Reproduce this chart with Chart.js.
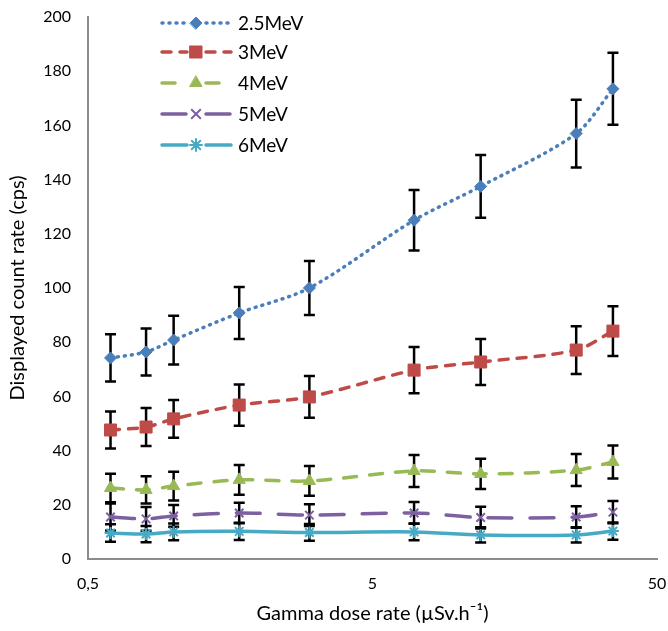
<!DOCTYPE html>
<html>
<head>
<meta charset="utf-8">
<script src="https://cdn.jsdelivr.net/npm/chart.js@4.4.1/dist/chart.umd.min.js"></script>
<style>
  html, body { margin: 0; padding: 0; background: #fff; }
  canvas { display: block; }
</style>
</head>
<body>
<canvas id="doseChart" width="668" height="631"></canvas>
<script>
// gamma dose rate (uSv/h) for each measurement
const doseRates = [0.6, 0.8, 1, 1.7, 3, 7, 12, 26, 35];
const xTicks = [0.5, 5, 50];

const seriesNames = ["2.5MeV", "3MeV", "4MeV", "5MeV", "6MeV"];
const rate25 = [74.2, 76.4, 80.8, 90.8, 100, 125, 137.5, 157, 173.5];
const rate3 = [47.6, 48.7, 51.7, 56.8, 59.8, 69.7, 72.7, 77.1, 84.1];
const rate4 = [26.2, 25.5, 26.9, 29.2, 28.8, 32.5, 31.4, 32.8, 35.8];
const rate5 = [15.5, 14.8, 15.9, 17, 16.2, 17, 15.3, 15.5, 17.3];
const rate6 = [9.6, 9.2, 10, 10.2, 9.8, 10, 8.9, 8.9, 10.3];

// +/- error on each point
const err25 = [8.7, 8.7, 9, 9.6, 10, 11.2, 11.6, 12.5, 13.3];
const err3 = [6.8, 7, 7, 7.6, 7.7, 8.5, 8.5, 8.8, 9.2];
const err4 = [5.3, 5, 5.3, 5.5, 5.5, 5.9, 5.6, 5.9, 6.1];
const err5 = [5, 4.4, 4, 3.8, 4, 4, 4, 4, 4.1];
const err6 = [3.2, 3, 3.1, 3.2, 3.1, 3.1, 2.8, 2.8, 3.2];

(function () {
  const FONT = "Lato, 'Open Sans', sans-serif";
  const toPoints = (vals) => vals.map((v, i) => ({ x: doseRates[i], y: v }));

  function series(idx, vals, errs, color, dash, style, radius, pbw) {
    return {
      label: seriesNames[idx],
      data: toPoints(vals),
      errors: errs,
      borderColor: color,
      backgroundColor: color,
      borderWidth: 3.5,
      borderDash: dash,
      borderCapStyle: "round",
      tension: 0.3,
      pointStyle: style,
      pointRadius: radius,
      pointBackgroundColor: color,
      pointBorderColor: color,
      pointBorderWidth: pbw,
    };
  }

  // black error bars, drawn under the lines
  const errorBars = {
    id: "errorBars",
    beforeDatasetsDraw(chart) {
      const { ctx, scales } = chart;
      ctx.save();
      ctx.strokeStyle = "#000";
      ctx.lineWidth = 2.5;
      chart.data.datasets.forEach((ds) => {
        ds.data.forEach((p, j) => {
          const e = ds.errors[j];
          const x = scales.x.getPixelForValue(p.x);
          const yt = scales.y.getPixelForValue(p.y + e);
          const yb = scales.y.getPixelForValue(p.y - e);
          ctx.beginPath();
          ctx.moveTo(x, yt); ctx.lineTo(x, yb);
          ctx.moveTo(x - 5.5, yt); ctx.lineTo(x + 5.5, yt);
          ctx.moveTo(x - 5.5, yb); ctx.lineTo(x + 5.5, yb);
          ctx.stroke();
        });
      });
      ctx.restore();
    },
  };

  // legend sits inside the plot, top left
  const innerLegend = {
    id: "innerLegend",
    afterDatasetsDraw(chart) {
      const { ctx } = chart;
      const rowY = [23, 52, 83, 114, 145];
      ctx.save();
      chart.data.datasets.forEach((ds, i) => {
        const y = rowY[i];
        ctx.strokeStyle = ds.borderColor;
        ctx.lineWidth = ds.borderWidth;
        ctx.lineCap = "round";
        ctx.setLineDash(ds.borderDash || []);
        ctx.beginPath();
        ctx.moveTo(162, y); ctx.lineTo(187, y);
        ctx.moveTo(206, y); ctx.lineTo(231, y);
        ctx.stroke();
        ctx.setLineDash([]);
        ctx.fillStyle = ds.pointBackgroundColor;
        ctx.lineWidth = ds.pointBorderWidth;
        Chart.helpers.drawPoint(ctx, { pointStyle: ds.pointStyle, radius: ds.pointRadius, rotation: 0, borderWidth: ds.pointBorderWidth }, 196, y);
        ctx.fillStyle = "#000";
        ctx.font = "19px " + FONT;
        ctx.textBaseline = "middle";
        ctx.fillText(ds.label, 238, y + 1);
      });
      ctx.restore();
    },
  };

  // keep the plot area fixed: no extra room for tick padding
  const noPad = (s) => { s.paddingLeft = 0; s.paddingRight = 0; s.paddingTop = 0; s.paddingBottom = 0; };

  new Chart(document.getElementById("doseChart"), {
    type: "line",
    data: {
      datasets: [
        series(0, rate25, err25, "#4A7EBB", [1, 6], "rectRot", 6, 1),
        series(1, rate3, err3, "#BE4B48", [9, 9], "rect", 8.5, 1),
        series(2, rate4, err4, "#98B954", [13, 13], "triangle", 7, 1),
        series(3, rate5, err5, "#7D60A0", [24, 18], "crossRot", 6, 2),
        series(4, rate6, err6, "#46AAC5", [], "star", 6, 2),
      ],
    },
    options: {
      responsive: false,
      animation: false,
      layout: { padding: { top: 17, right: 11, left: 0, bottom: 0 } },
      plugins: {
        legend: { display: false },
        tooltip: { enabled: false },
      },
      scales: {
        x: {
          type: "logarithmic",
          min: 0.5,
          max: 50,
          afterBuildTicks: (s) => { s.ticks = xTicks.map((v) => ({ value: v })); },
          afterFit: (s) => { s.height = 72; noPad(s); },
          grid: { display: false, drawTicks: false },
          border: { color: "#8c8c8c", width: 2 },
          ticks: {
            padding: 15,
            color: "#000",
            font: { family: FONT, size: 16 },
            callback: (v) => String(v).replace(".", ","),
          },
          title: {
            display: true,
            text: "Gamma dose rate (µSv.h⁻¹)",
            color: "#000",
            font: { family: FONT, size: 20 },
            padding: { top: 0, bottom: 5 },
          },
        },
        y: {
          min: 0,
          max: 200,
          afterFit: (s) => { s.width = 88; noPad(s); },
          grid: { display: false, drawTicks: false },
          border: { color: "#8c8c8c", width: 2 },
          ticks: {
            stepSize: 20,
            padding: 17,
            color: "#000",
            font: { family: FONT, size: 16 },
          },
          title: {
            display: true,
            text: "Displayed count rate (cps)",
            color: "#000",
            font: { family: FONT, size: 20 },
            padding: { top: 6, bottom: 0 },
          },
        },
      },
    },
    plugins: [errorBars, innerLegend],
  });
})();
</script>
</body>
</html>
